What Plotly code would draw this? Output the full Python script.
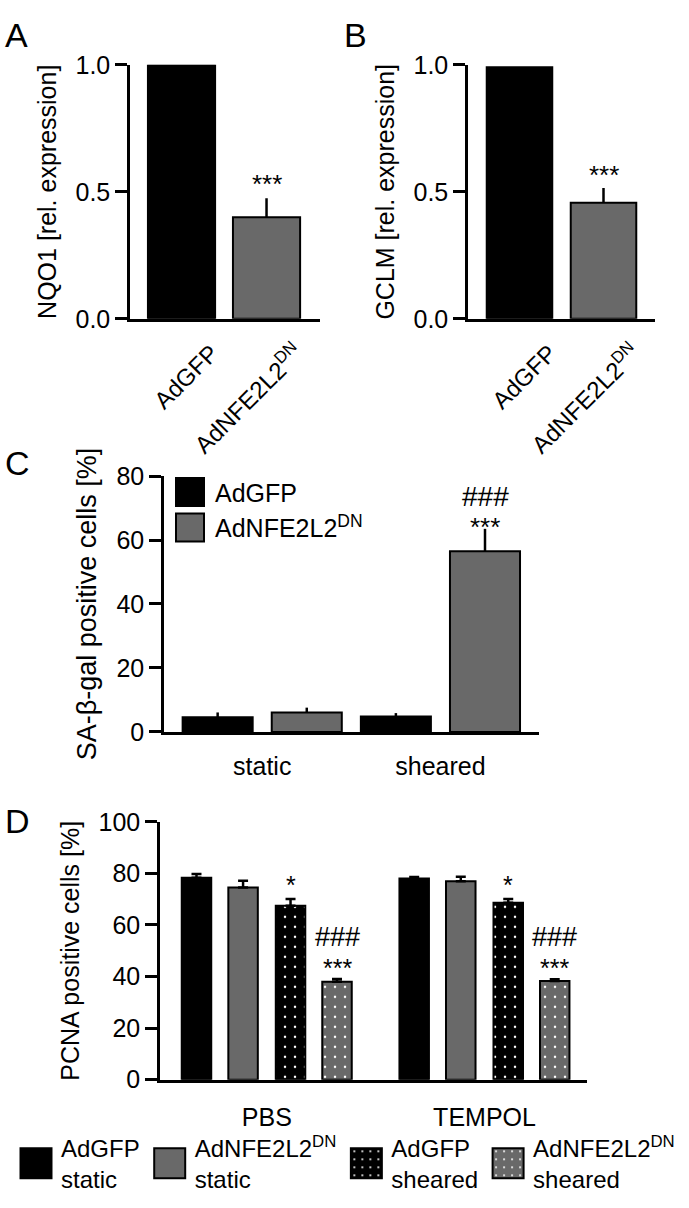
import plotly.graph_objects as go

W, H = 689, 1208
FONT = "Liberation Sans, Arial, sans-serif"
BLACK = "#000000"
GRAY = "#696969"

# ---------------- data ----------------
# Panel A: NQO1
a_cats = ["AdGFP", "AdNFE2L2<sup>DN</sup>"]
a_vals = [1.0, 0.40]
a_err = [0.0, 0.075]
a_sig = ["", "***"]

# Panel B: GCLM
b_cats = ["AdGFP", "AdNFE2L2<sup>DN</sup>"]
b_vals = [0.99, 0.457]
b_err = [0.0, 0.058]
b_sig = ["", "***"]

# Panel C: SA-beta-gal positive cells
c_cats = ["static", "sheared"]
c_gfp = [4.6, 4.8]
c_gfp_err = [1.5, 1.1]
c_nfe = [6.1, 56.5]
c_nfe_err = [1.5, 7.0]
c_nfe_sig = ["", "***"]
c_nfe_hash = ["", "###"]

# Panel D: PCNA positive cells
d_cats = ["PBS", "TEMPOL"]
d_gfp_static = [78.3, 78.0]
d_gfp_static_err = [1.5, 0.6]
d_nfe_static = [74.5, 77.0]
d_nfe_static_err = [2.7, 1.7]
d_gfp_sheared = [67.5, 68.6]
d_gfp_sheared_err = [2.6, 1.5]
d_nfe_sheared = [38.0, 38.3]
d_nfe_sheared_err = [1.1, 0.7]
d_gfp_sheared_sig = ["*", "*"]
d_nfe_sheared_sig = ["***", "***"]
d_nfe_sheared_hash = ["###", "###"]


def xd(p0, p1):
    return [p0 / W, p1 / W]


def yd(top, bottom):
    return [1 - bottom / H, 1 - top / H]


fig = go.Figure()

line = dict(color=BLACK, width=2)


def err(arr, width=0):
    return dict(type="data", array=arr, arrayminus=[0] * len(arr), symmetric=False,
                color=BLACK, thickness=2.5, width=width)


# Panel A
fig.add_trace(go.Bar(x=a_cats, y=a_vals, error_y=err(a_err), width=0.79,
                     marker=dict(color=[BLACK, GRAY], line=line),
                     xaxis="x", yaxis="y", showlegend=False))
# Panel B
fig.add_trace(go.Bar(x=b_cats, y=b_vals, error_y=err(b_err), width=0.78,
                     marker=dict(color=[BLACK, GRAY], line=line),
                     xaxis="x2", yaxis="y2", showlegend=False))

# Panel C
c_w = 0.393
c_centers = [-0.25, 0.25]
fig.add_trace(go.Bar(x=c_cats, y=c_gfp, error_y=err(c_gfp_err), width=c_w,
                     offset=c_centers[0] - c_w / 2, name="AdGFP",
                     marker=dict(color=BLACK, line=line),
                     xaxis="x3", yaxis="y3", legend="legend"))
fig.add_trace(go.Bar(x=c_cats, y=c_nfe, error_y=err(c_nfe_err), width=c_w,
                     offset=c_centers[1] - c_w / 2, name="AdNFE2L2<sup>DN</sup>",
                     marker=dict(color=GRAY, line=line),
                     xaxis="x3", yaxis="y3", legend="legend"))

# Panel D
d_w = 0.1355
d_centers = [-0.323, -0.109, 0.109, 0.3225]
d_series = [
    ("AdGFP<br>static", d_gfp_static, d_gfp_static_err, BLACK, ""),
    ("AdNFE2L2<sup>DN</sup><br>static", d_nfe_static, d_nfe_static_err, GRAY, ""),
    ("AdGFP<br>sheared", d_gfp_sheared, d_gfp_sheared_err, BLACK, "."),
    ("AdNFE2L2<sup>DN</sup><br>sheared", d_nfe_sheared, d_nfe_sheared_err, GRAY, "."),
]
for (name, vals, errs, col, shape), cen in zip(d_series, d_centers):
    mk = dict(color=col, line=line)
    if shape:
        mk["pattern"] = dict(shape=shape, fgcolor="white", bgcolor=col, size=10,
                             solidity=0.05, fillmode="replace")
    fig.add_trace(go.Bar(x=d_cats, y=vals, error_y=err(errs, width=5), width=d_w,
                         offset=cen - d_w / 2, name=name, marker=mk,
                         xaxis="x4", yaxis="y4", legend="legend2"))

# ---------------- annotations (significance marks) ----------------
ann = []


def sig(xref, yref, x, y, text, yshift, size=26):
    ann.append(dict(x=x, y=y, xref=xref, yref=yref, text=text, showarrow=False,
                    yanchor="middle", xanchor="center", yshift=yshift,
                    font=dict(size=size, family=FONT, color=BLACK)))


for i, s in enumerate(a_sig):
    if s:
        sig("x", "y", i, a_vals[i] + a_err[i], s, 14)
for i, s in enumerate(b_sig):
    if s:
        sig("x2", "y2", i, b_vals[i] + b_err[i], s, 13)
for i, s in enumerate(c_nfe_sig):
    if s:
        sig("x3", "y3", i + c_centers[1], c_nfe[i] + c_nfe_err[i], s, 2)
        sig("x3", "y3", i + c_centers[1], c_nfe[i] + c_nfe_err[i], c_nfe_hash[i], 32, 28)
for i in range(len(d_cats)):
    sig("x4", "y4", i + d_centers[2], d_gfp_sheared[i] + d_gfp_sheared_err[i],
        d_gfp_sheared_sig[i], 14, 25)
    top = d_nfe_sheared[i] + d_nfe_sheared_err[i]
    sig("x4", "y4", i + d_centers[3], top, d_nfe_sheared_sig[i], 11, 25)
    sig("x4", "y4", i + d_centers[3], top, d_nfe_sheared_hash[i], 42, 27)

# panel letters
for letter, px, py in [("A", 3, 0), ("B", 342, 0), ("C", 3, 438), ("D", 3, 805)]:
    ann.append(dict(x=px / W, y=1 - py / H, xref="paper", yref="paper", text=letter,
                    showarrow=False, xanchor="left", yanchor="top",
                    font=dict(size=34, family=FONT, color=BLACK)))

# ---------------- axes ----------------
tickfont = dict(size=25, family=FONT, color=BLACK)


def yaxis(domain, anchor, rng, tickvals, title, tsize=25, fmt=None):
    d = dict(domain=domain, anchor=anchor, range=rng, tickvals=tickvals,
             showline=True, linecolor=BLACK, linewidth=2.5, ticks="outside",
             ticklen=12, tickwidth=2.5, tickcolor=BLACK, showgrid=False,
             zeroline=False, tickfont=tickfont,
             title=dict(text=title, font=dict(size=tsize, family=FONT, color=BLACK),
                        standoff=12))
    if fmt:
        d["tickformat"] = fmt
    return d


def xaxis(domain, anchor, rng, angle=0, shift=0, standoff=0, fsize=25):
    return dict(domain=domain, anchor=anchor, range=rng, type="category",
                showline=True, linecolor=BLACK, linewidth=2.5, ticks="",
                showgrid=False, zeroline=False,
                tickfont=dict(size=fsize, family=FONT, color=BLACK),
                tickangle=angle, ticklabelshift=shift, ticklabelstandoff=standoff)


fig.update_layout(
    width=W, height=H,
    margin=dict(l=0, r=0, t=0, b=0),
    paper_bgcolor="white", plot_bgcolor="white",
    font=dict(family=FONT, color=BLACK),
    barmode="overlay",
    hovermode=False,
    xaxis=xaxis(xd(130, 320), "y", [-0.606, 1.629], angle=-45, shift=30, standoff=8,
                fsize=24),
    yaxis=yaxis(yd(52, 312), "x", [0, 1.0], [0, 0.5, 1.0], "NQO1 [rel. expression]",
                fmt=".1f"),
    xaxis2=xaxis(xd(468, 655), "y2", [-0.613, 1.613], angle=-45, shift=30, standoff=8,
                 fsize=24),
    yaxis2=yaxis(yd(52, 312), "x2", [0, 1.0], [0, 0.5, 1.0], "GCLM [rel. expression]",
                 fmt=".1f"),
    xaxis3=xaxis(xd(164, 539), "y3", [-0.551, 1.553], standoff=10),
    yaxis3=yaxis(yd(473, 735), "x3", [0, 80], [0, 20, 40, 60, 80],
                 "SA-β-gal positive cells [%]", tsize=27),
    xaxis4=xaxis(xd(160, 587), "y4", [-0.4906, 1.4708], standoff=14),
    yaxis4=yaxis(yd(827, 1091), "x4", [0, 100], [0, 20, 40, 60, 80, 100],
                 "PCNA positive cells [%]"),
    legend=dict(x=165 / W, y=1 - 466 / H, xanchor="left", yanchor="top",
                orientation="v", bgcolor="rgba(0,0,0,0)", borderwidth=0,
                itemwidth=40, font=dict(size=25, family=FONT, color=BLACK),
                itemclick=False, itemdoubleclick=False),
    legend2=dict(x=11 / W, y=1 - 1138 / H, xanchor="left", yanchor="top",
                 orientation="h", bgcolor="rgba(0,0,0,0)", borderwidth=0,
                 itemwidth=40, valign="middle",
                 font=dict(size=24, family=FONT, color=BLACK),
                 itemclick=False, itemdoubleclick=False),
    annotations=ann,
)

post = """
document.body.style.margin = '0';
document.body.style.padding = '0';
var gd = document.getElementById('{plot_id}');
function fixLegend(){
  gd.querySelectorAll('g.legendpoints path').forEach(function(p){
    p.setAttribute('d','M15.5,15H-15.5V-15H15.5Z');
  });
  gd.querySelectorAll('g.legend g.legendpoints path').forEach(function(p){
    p.setAttribute('d','M14,14H-14V-14H14Z');
  });
}
fixLegend();
gd.on('plotly_afterplot', fixLegend);
"""

fig.write_html("out.html", post_script=post, config={"displayModeBar": False})
